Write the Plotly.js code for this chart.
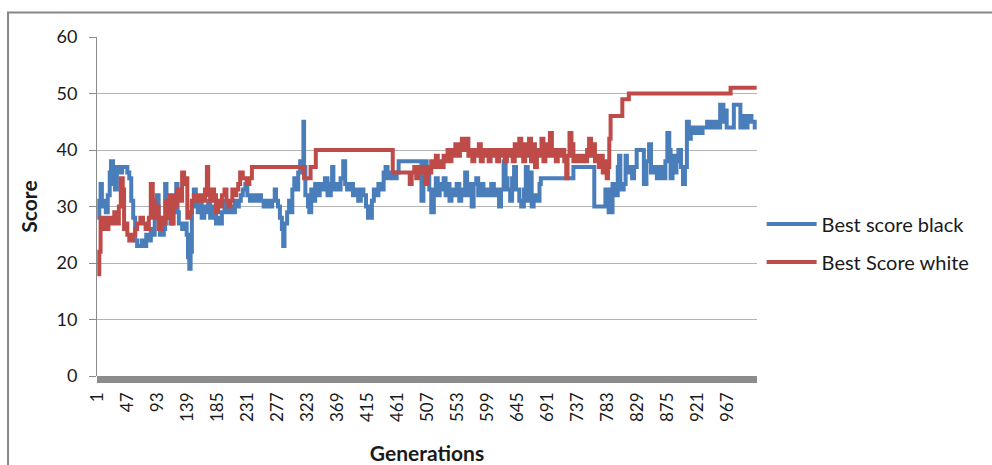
<!DOCTYPE html>
<html>
<head>
<meta charset="utf-8">
<script src="https://cdn.plot.ly/plotly-3.0.1.min.js"></script>
<style>html,body{margin:0;padding:0;background:#fff;}#chart{width:992px;height:465px;}</style>
</head>
<body>
<div id="chart"></div>
<script>
const seriesNames = ["Best score black", "Best Score white"];
const genTicks = [1,47,93,139,185,231,277,323,369,415,461,507,553,599,645,691,737,783,829,875,921,967];

const blackGen = [1,4,6,8,11,14,17,20,22,25,28,31,36,39,47,50,53,56,59,62,69,73,76,80,83,86,89,92,95,97,103,105,107,110,113,116,119,122,124,126,131,135,138,140,142,144,146,149,152,155,158,161,165,168,171,174,177,180,183,186,189,192,196,199,202,205,208,212,215,218,221,224,228,231,235,238,243,248,252,256,261,265,269,273,275,278,281,284,286,288,292,295,298,300,303,306,309,312,315,317,318,320,324,326,329,332,335,338,342,346,350,354,359,361,363,366,370,374,378,381,384,389,393,397,401,405,409,413,416,422,425,428,432,436,440,443,446,450,456,460,463,498,501,506,510,513,517,520,523,526,529,532,535,538,541,544,547,552,556,559,562,565,568,571,575,578,582,585,589,593,597,601,605,609,614,617,620,624,627,630,634,637,640,643,648,651,655,658,661,664,667,670,675,679,681,731,763,780,785,791,795,799,801,803,808,811,813,817,821,824,828,839,843,847,850,854,859,863,867,872,875,878,880,883,886,889,892,896,899,902,905,908,911,915,919,925,929,936,942,948,952,956,961,964,966,977,987,990,995,998,1004,1009,1012];
const blackScore = [28,31,34,30,31,29,32,36,38,34,33,37,36,37,36,35,31,28,24,23,24,23,25,24,26,25,28,32,28,25,26,34,28,30,27,30,29,34,29,27,26,27,25,21,19,22,30,33,31,29,31,28,30,29,31,28,30,29,27,28,27,29,31,30,29,30,29,31,30,31,32,33,34,32,31,32,31,32,31,30,31,30,31,33,31,30,28,26,23,27,29,31,29,33,35,33,36,38,36,45,37,32,30,29,33,31,34,32,34,33,35,32,34,37,33,34,33,35,38,34,33,34,32,33,31,33,32,30,28,31,33,32,34,33,36,37,35,36,35,36,38,31,38,36,33,29,33,35,32,34,33,35,32,34,31,33,32,34,31,33,32,36,32,34,30,34,35,32,34,32,33,32,34,32,33,30,33,38,35,33,31,35,37,33,31,30,33,37,31,36,30,32,31,34,35,37,30,33,29,34,32,37,39,33,34,39,36,37,35,37,40,34,38,41,36,37,35,37,35,38,43,40,35,39,36,38,40,37,34,37,45,42,44,43,44,43,44,45,44,45,44,48,45,47,44,48,44,46,44,46,45,44,44];

const whiteGen = [1,4,6,9,12,15,18,21,24,27,30,34,37,40,42,45,47,50,55,59,62,67,71,75,80,83,86,89,92,95,100,103,106,109,112,115,118,121,123,127,131,134,137,139,143,146,149,153,157,161,166,169,171,174,177,180,183,186,189,192,196,199,202,205,208,211,214,217,220,224,230,234,238,318,328,336,454,480,483,487,490,493,496,500,504,507,510,513,517,520,523,526,529,532,535,538,541,544,547,550,554,557,560,564,567,570,573,576,579,582,586,589,592,595,598,601,604,607,610,614,617,620,623,626,629,632,635,638,641,644,648,651,654,657,660,663,666,669,672,675,678,682,685,688,691,695,698,701,704,707,711,714,717,720,722,725,728,731,735,739,744,748,752,755,758,761,764,767,770,773,776,780,782,784,786,788,806,816,972,1012];
const whiteScore = [18,22,28,26,28,26,27,28,27,29,27,30,35,33,26,27,25,24,25,26,27,28,27,26,28,34,31,28,30,26,28,27,31,28,32,27,32,30,33,31,36,34,35,28,29,31,32,31,32,31,33,37,32,31,33,32,29,31,30,32,33,31,30,31,33,32,33,34,36,35,34,35,37,35,37,40,36,34,36,37,35,37,36,37,34,37,36,38,37,39,37,38,37,39,38,40,38,40,39,41,39,40,42,40,42,39,40,38,40,39,41,38,40,39,40,38,40,39,40,38,40,39,40,38,40,39,40,38,41,39,42,40,38,41,39,42,38,41,37,40,39,42,38,41,39,43,39,40,38,40,39,40,38,35,39,43,41,38,39,38,39,38,40,42,39,41,38,39,37,39,36,38,35,37,42,46,49,50,51,51];

const FONT = "Lato, 'Open Sans', sans-serif";
const BLUE = "#4a7ebb", RED = "#be4b48";

const traces = [
  {x: blackGen, y: blackScore, name: seriesNames[0], type: "scatter", mode: "lines",
   line: {color: BLUE, width: 4, shape: "hv"}, legendgroup: "a"},
  {x: whiteGen, y: whiteScore, name: seriesNames[1], type: "scatter", mode: "lines",
   line: {color: RED, width: 4, shape: "hv"}, legendgroup: "b"}
];

const layout = {
  width: 992, height: 465,
  margin: {l: 97, r: 235, t: 37, b: 89},
  paper_bgcolor: "#fff", plot_bgcolor: "#fff",
  font: {family: FONT, color: "#1a1a1a", size: 16},
  showlegend: true,
  legend: {x: 1.007, y: 0.392, xanchor: "left", yanchor: "middle",
           font: {family: FONT, size: 20, color: "#1a1a1a"},
           traceorder: "grouped", tracegroupgap: 9, itemwidth: 50, bgcolor: "rgba(0,0,0,0)"},
  xaxis: {
    range: [0.5, 1012.5], tickmode: "array", tickvals: genTicks, ticktext: genTicks.map(String),
    tickangle: -90, tickfont: {family: FONT, size: 17, color: "#1a1a1a"},
    showgrid: false, zeroline: false, showline: false, ticks: "", ticklabelstandoff: 12,
    title: {text: "<b>Generations</b>", font: {family: FONT, size: 21, color: "#1a1a1a"}, standoff: 28},
    automargin: false
  },
  yaxis: {
    range: [0, 60], dtick: 10, tick0: 0,
    showgrid: true, gridcolor: "#b4b4b4", gridwidth: 1, zeroline: false,
    showline: true, linecolor: "#8a8a8a", linewidth: 1,
    ticks: "outside", ticklen: 7, tickcolor: "#8a8a8a",
    tickfont: {family: FONT, size: 18, color: "#1a1a1a"}, ticklabelstandoff: 8,
    title: {text: "<b>Score</b>", font: {family: FONT, size: 21, color: "#1a1a1a"}, standoff: 13},
    automargin: false
  },
  shapes: [
    {type: "rect", xref: "paper", yref: "paper", x0: 0, x1: 1,
     ysizemode: "pixel", yanchor: 0, y0: -7, y1: 0,
     fillcolor: "#8c8c8c", line: {width: 0}},
    {type: "rect", xref: "paper", yref: "paper", x0: -0.1348, x1: 1.6, y0: -0.6, y1: 1.0723,
     fillcolor: "rgba(0,0,0,0)", line: {color: "#878787", width: 2}}
  ]
};

Plotly.newPlot("chart", traces, layout, {displayModeBar: false, staticPlot: true});
</script>
</body>
</html>
